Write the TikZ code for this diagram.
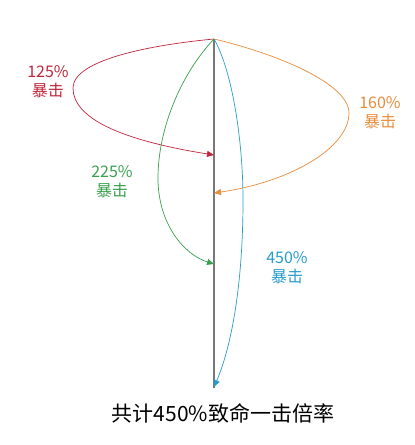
\documentclass[tikz,border=0pt]{standalone}
\usepackage{fontspec}
\setmainfont{Noto Sans CJK SC}
\usetikzlibrary{arrows.meta}
\definecolor{cred}{RGB}{190,40,60}
\definecolor{corange}{RGB}{232,140,60}
\definecolor{cgreen}{RGB}{58,160,80}
\definecolor{cblue}{RGB}{40,156,204}
\definecolor{cline}{RGB}{120,120,120}
\begin{document}
\begin{tikzpicture}[x=1pt,y=-1pt,
  arc/.style={line width=0.7pt,-{Triangle[length=7pt,width=6pt]}},
  lbl/.style={font=\fontsize{16}{19}\selectfont,align=center,inner sep=0pt}]
\useasboundingbox (0,0) rectangle (415,445);
\fill[white] (0,0) rectangle (415,445);
\coordinate (top) at (214,39);
\coordinate (bot) at (214,388);
\coordinate (p1) at (214,155);
\coordinate (p2) at (214,193);
\coordinate (p3) at (214,264);
\coordinate (p4) at (214,387);
\draw[cline,line width=1.4pt] (top) -- (bot);
\draw[arc,cred] (top) .. controls (150,45) and (73,60) .. (73,88)
  .. controls (73,118) and (120,140) .. (p1);
\draw[arc,corange] (top) .. controls (270,52) and (349,82) .. (349,113)
  .. controls (349,148) and (290,182) .. (p2);
\draw[arc,cgreen] (top) .. controls (180,75) and (158,130) .. (158,178)
  .. controls (158,225) and (185,255) .. (p3);
\draw[arc,cblue] (top) .. controls (232,70) and (243,140) .. (243,200)
  .. controls (243,290) and (230,350) .. (p4);
\node[lbl,text=cred] (l1) at (48,82) {125\%\\暴击};
\node[lbl,text=corange] (l2) at (380,113) {160\%\\暴击};
\node[lbl,text=cgreen] (l3) at (112,182) {225\%\\暴击};
\node[lbl,text=cblue] (l4) at (287,268) {450\%\\暴击};
\node[font=\fontsize{21}{24}\selectfont,inner sep=0pt] (sum) at (223,413) {共计450\%致命一击倍率};
\end{tikzpicture}
\end{document}
